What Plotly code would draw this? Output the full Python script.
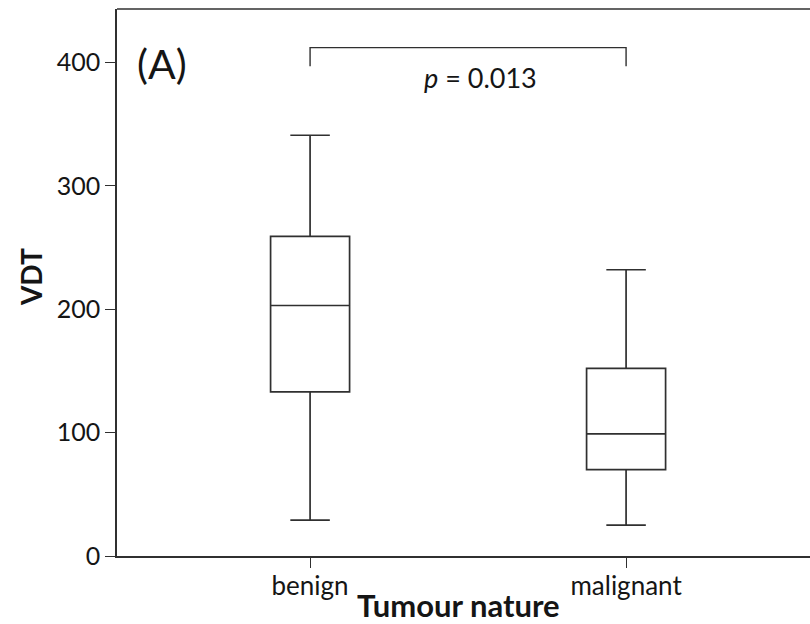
import plotly.graph_objects as go

# Volume doubling time (VDT) summary statistics by tumour nature
categories = ["benign", "malignant"]
lower_whisker = [29, 25]
q1_vals = [133, 70]
median_vals = [203, 99]
q3_vals = [259, 152]
upper_whisker = [341, 232]

y_ticks = [0, 100, 200, 300, 400]
p_label = "<i>p</i> = 0.013"
bracket_top = 412
bracket_foot = 397

FONT = "Lato, 'Open Sans', sans-serif"
INK = "#151515"
LINE = "#303030"

fig = go.Figure()

for i, cat in enumerate(categories):
    fig.add_trace(go.Box(
        x=[cat],
        q1=[q1_vals[i]],
        median=[median_vals[i]],
        q3=[q3_vals[i]],
        lowerfence=[lower_whisker[i]],
        upperfence=[upper_whisker[i]],
        width=0.25,
        whiskerwidth=0.5,
        fillcolor="white",
        line=dict(color=LINE, width=1.7),
        boxpoints=False,
        showlegend=False,
        hoverinfo="skip",
    ))

# significance bracket between the two groups
fig.add_trace(go.Scatter(
    x=[categories[0], categories[0], categories[1], categories[1]],
    y=[bracket_foot, bracket_top, bracket_top, bracket_foot],
    mode="lines",
    line=dict(color=LINE, width=1.4),
    showlegend=False,
    hoverinfo="skip",
))

fig.add_annotation(
    x=0.54, y=388, xref="x", yref="y",
    text=p_label, showarrow=False,
    font=dict(family=FONT, size=27, color=INK),
)

fig.add_annotation(
    x=-0.553, y=399, xref="x", yref="y",
    text="(A)", showarrow=False, xanchor="left",
    font=dict(family=FONT, size=41, color=INK),
)

fig.add_annotation(
    x=0.493, y=-0.0896, xref="paper", yref="paper",
    text="<b>Tumour nature</b>", showarrow=False,
    xanchor="center", yanchor="middle",
    font=dict(family=FONT, size=31, color=INK),
)

fig.add_annotation(
    x=-0.124, y=0.51, xref="paper", yref="paper",
    text="<b>VDT</b>", showarrow=False, textangle=-90,
    xanchor="center", yanchor="middle",
    font=dict(family=FONT, size=28, color=INK),
)

# frame line along the top of the plotting area
fig.add_shape(
    type="line", xref="paper", yref="paper",
    x0=0, x1=1, y0=1, y1=1,
    line=dict(color=LINE, width=1.7),
)

fig.update_layout(
    width=810, height=624,
    margin=dict(l=117, r=0, t=9, b=68),
    paper_bgcolor="white",
    plot_bgcolor="white",
    font=dict(family=FONT, size=26, color=INK),
    xaxis=dict(
        type="category",
        categoryorder="array", categoryarray=categories,
        range=[-0.611, 1.582],
        showline=True, linecolor=LINE, linewidth=1.7,
        mirror=False,
        ticks="outside", ticklen=10, tickcolor=LINE, tickwidth=1.4,
        showgrid=False, zeroline=False,
        tickfont=dict(family=FONT, size=26, color=INK),
        ticklabelstandoff=-4,
    ),
    yaxis=dict(
        range=[0, 443.3],
        tickvals=y_ticks,
        showline=True, linecolor=LINE, linewidth=1.7,
        mirror=False,
        ticks="outside", ticklen=10, tickcolor=LINE, tickwidth=1.4,
        showgrid=False, zeroline=False,
        tickfont=dict(family=FONT, size=25, color=INK),
    ),
)

fig.write_html("out.html")
